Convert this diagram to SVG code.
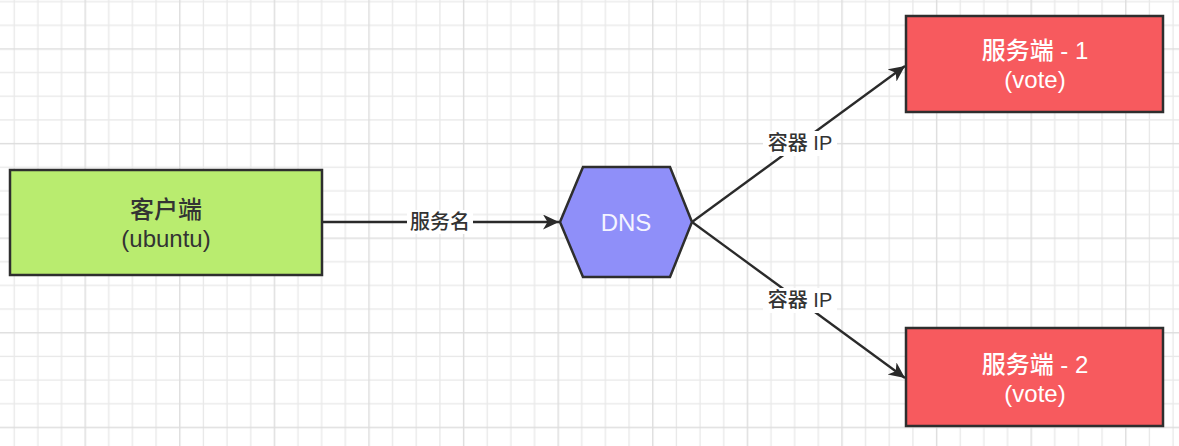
<svg xmlns="http://www.w3.org/2000/svg" width="1179" height="446" viewBox="0 0 1179 446">
  <style>
    .node { stroke: #2e2e2e; stroke-width: 2.5; }
    .t { font-family: "Liberation Sans", "Noto Sans CJK SC", sans-serif; font-size: 24px; font-weight: 500; text-anchor: middle; dominant-baseline: central; }
    .lbl { font-family: "Liberation Sans", "Noto Sans CJK SC", sans-serif; font-size: 20px; font-weight: 500; text-anchor: middle; dominant-baseline: central; fill: #333333; }
    .edge { stroke: #2a2a2a; stroke-width: 2.3; fill: none; }
  </style>
  <defs>
    <pattern id="grid" patternUnits="userSpaceOnUse" x="84.5" y="48.3" width="94.6" height="94.6">
      <rect x="0" y="0" width="94.6" height="94.6" fill="#ffffff"/>
      <g fill="#e9e9e9">
        <rect x="23.65" y="0" width="1.3" height="94.6"/>
        <rect x="47.3" y="0" width="1.3" height="94.6"/>
        <rect x="70.95" y="0" width="1.3" height="94.6"/>
        <rect x="0" y="23.65" width="94.6" height="1.3"/>
        <rect x="0" y="47.3" width="94.6" height="1.3"/>
        <rect x="0" y="70.95" width="94.6" height="1.3"/>
      </g>
      <g fill="#dddddd">
        <rect x="0" y="0" width="1.4" height="94.6"/>
        <rect x="0" y="0" width="94.6" height="1.4"/>
      </g>
    </pattern>
    <marker id="arrow" markerUnits="userSpaceOnUse" markerWidth="18" markerHeight="16" refX="16" refY="7.5" orient="auto">
      <path d="M0,0 L16,7.5 L0,15 L4.5,7.5 z" fill="#2a2a2a"/>
    </marker>
  </defs>

  <rect x="0" y="0" width="1179" height="446" fill="url(#grid)"/>

  <g id="connectors">
    <g id="edge-client-dns">
      <line class="edge" x1="322" y1="222" x2="559" y2="222" marker-end="url(#arrow)"/>
      <rect x="407" y="210" width="66" height="24" fill="#ffffff"/>
      <text class="lbl" x="440" y="222">服务名</text>
    </g>
    <g id="edge-dns-s1">
      <line class="edge" x1="692" y1="222" x2="905" y2="66" marker-end="url(#arrow)"/>
      <rect x="763" y="131" width="74" height="25" fill="#ffffff"/>
      <text class="lbl" x="800" y="143">容器 IP</text>
    </g>
    <g id="edge-dns-s2">
      <line class="edge" x1="692" y1="222" x2="905" y2="378" marker-end="url(#arrow)"/>
      <rect x="763" y="288" width="74" height="25" fill="#ffffff"/>
      <text class="lbl" x="800" y="300">容器 IP</text>
    </g>
  </g>

  <g id="client">
    <rect class="node" x="10" y="170" width="312" height="105" fill="#b9ec6f"/>
    <text class="t" x="166" y="209" fill="#333333">客户端</text>
    <text class="t" x="166" y="238" fill="#333333">(ubuntu)</text>
  </g>

  <g id="dns">
    <polygon class="node" points="560,222 583,167 670,167 692,222 670,277 583,277" fill="#8f8ff9"/>
    <text class="t" x="626" y="222" fill="#f4f4ff">DNS</text>
  </g>

  <g id="server1">
    <rect class="node" x="906" y="16" width="257" height="96" fill="#f75a5e"/>
    <text class="t" x="1035" y="50" fill="#ffffff">服务端 - 1</text>
    <text class="t" x="1035" y="79" fill="#ffffff">(vote)</text>
  </g>

  <g id="server2">
    <rect class="node" x="906" y="328" width="257" height="98" fill="#f75a5e"/>
    <text class="t" x="1035" y="364" fill="#ffffff">服务端 - 2</text>
    <text class="t" x="1035" y="393" fill="#ffffff">(vote)</text>
  </g>
</svg>
